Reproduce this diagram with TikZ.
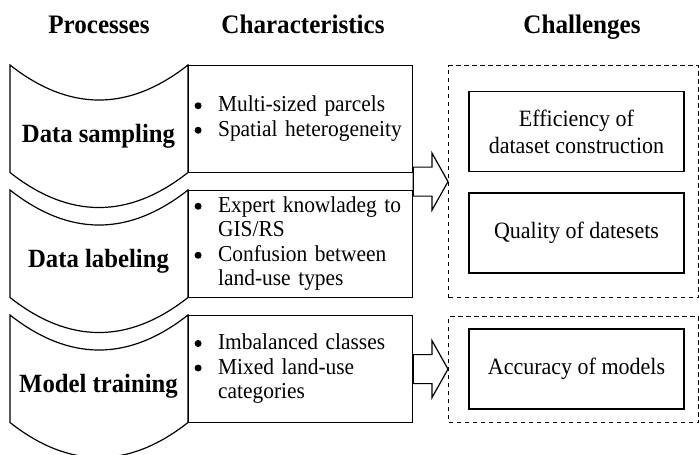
\documentclass[tikz,border=0pt]{standalone}
\usepackage{fontspec}
\setmainfont{Liberation Serif}[FakeStretch=0.94]
\usetikzlibrary{positioning,calc}

% bullet list used inside the characteristics boxes
\newcommand{\blt}{\tikz[baseline=-6pt]\fill (0,0) circle (3.5pt);}
\newcommand{\featlist}[1]{\begin{tabular}{@{}l@{\hspace{16.5pt}}l@{}}#1\end{tabular}}

\begin{document}
\begin{tikzpicture}[x=1pt, y=-1pt,
  every node/.style={inner sep=0pt},
  head/.style={anchor=base, font=\fontsize{26.7}{30}\selectfont\bfseries},
  proc/.style={font=\fontsize{26.3}{30}\selectfont\bfseries},
  wave/.style={draw, line width=1.2pt},
  feat/.style={draw, line width=1.2pt, anchor=north west, minimum height=107pt,
    text width=212pt, inner xsep=6pt, align=left, font=\fontsize{22.8}{24.5}\selectfont},
  chal/.style={draw, line width=1.2pt, minimum width=215pt, minimum height=80pt,
    align=center, font=\fontsize{23.4}{27}\selectfont},
  group/.style={draw, line width=1.2pt, dash pattern=on 4.5pt off 3.5pt,
    anchor=north west, minimum width=250pt},
  bigarrow/.style={draw, line width=1.2pt, fill=white, line join=miter,
    to path={let \p1=(\tikztostart), \p2=(\tikztotarget) in
      (\x1,\y1+14.5pt) -- (\x2-16pt,\y1+14.5pt) -- (\x2-16pt,\y1+28.5pt) -- (\x2,\y1)
      -- (\x2-16pt,\y1-28.5pt) -- (\x2-16pt,\y1-14.5pt) -- (\x1,\y1-14.5pt) -- cycle}}]
  \useasboundingbox (0,0) rectangle (699,455);

  % column titles
  \node[head] (hProc) at (99,34) {Processes};
  \node[head] (hChar) at (303,34) {Characteristics};
  \node[head] (hChal) at (582,34) {Challenges};

  % processes: banners with curved top and bottom
  \foreach \ry/\name/\txt in {65/sampling/Data sampling,
                              190/labeling/Data labeling,
                              315/training/Model training}{
    \draw[wave] (10,\ry) -- (10,\ry+107.5)
      .. controls (69.3,\ry+154.2) and (128.7,\ry+154.2) .. (188,\ry+107.5)
      -- (188,\ry) .. controls (128.7,\ry+46.7) and (69.3,\ry+46.7) .. (10,\ry) -- cycle;
    \node[proc] (\name) at (98.5,\ry+71) {\txt};
  }

  % characteristics
  \node[feat] (sampChar) at (188,65) {\featlist{
    \blt & Multi-sized parcels\\
    \blt & Spatial heterogeneity}};
  \node[feat] (labChar) at (188,190) {\featlist{
    \blt & Expert knowladeg to\\
         & GIS/RS\\
    \blt & Confusion between\\
         & land-use types}};
  \node[feat] (trainChar) at (188,315) {\featlist{
    \blt & Imbalanced classes\\
    \blt & Mixed land-use\\
         & categories}};

  % challenges
  \node[group, minimum height=232pt] (group1) at (448,65) {};
  \node[group, minimum height=106pt] (group2) at (448,316) {};
  \node[chal] (effic) at (576.5,131.5) {Efficiency of\\dataset construction};
  \node[chal] (quality) at (576.5,233) {Quality of datesets};
  \node[chal] (accur) at (576.5,369) {Accuracy of models};

  % block arrows
  \coordinate (tail1) at ($(sampChar.south east)!0.5!(labChar.north east)$);
  \draw[bigarrow] (tail1) to (tail1 -| group1.west);
  \draw[bigarrow] (trainChar.east) to (trainChar.east -| group2.west);
\end{tikzpicture}
\end{document}
